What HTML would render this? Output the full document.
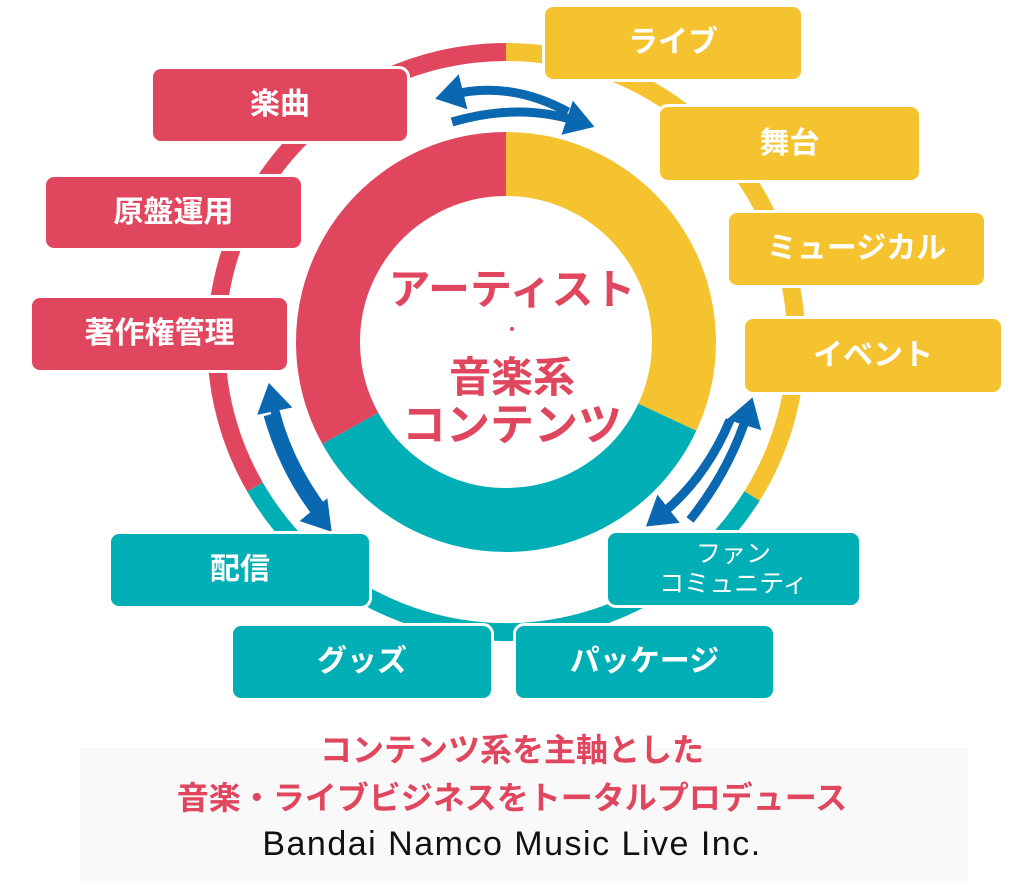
<!DOCTYPE html>
<html><head><meta charset="utf-8"><style>
body{margin:0;width:1024px;height:881px;background:#fff;overflow:hidden;font-family:"Liberation Sans","Noto Sans CJK JP",sans-serif}
.b{position:absolute;border:3px solid #fff;border-radius:11px;color:#fff;font-weight:bold;font-size:30px;display:flex;align-items:center;justify-content:center;box-sizing:border-box;text-align:center;line-height:1.2}
.r{background:#e0475f}.y{background:#f5c330}.t{background:#00aeb6}
.c{position:absolute;left:0;width:1024px;text-align:center;font-weight:bold}
</style></head><body>
<div style="position:absolute;left:80px;top:748px;width:888px;height:133px;background:#f9f9f9"></div>
<svg width="1024" height="881" style="position:absolute;left:0;top:0">
<defs><marker id="ah" markerWidth="4" markerHeight="4" refX="1.5" refY="2" orient="auto" markerUnits="strokeWidth"><path d="M0,0 L3.2,2 L0,4 Z" fill="#0a68b0"/></marker></defs>
<g fill="none" stroke-width="18">
<path d="M506,52 A290,290 0 0 1 752,496" stroke="#f5c330"/>
<path d="M752,496 A290,290 0 0 1 255,487" stroke="#00aeb6"/>
<path d="M255,487 A290,290 0 0 1 506,52" stroke="#e0475f"/>
</g>
<g fill="none" stroke-width="64">
<path d="M506,164 A178,178 0 0 1 667.3,417.2" stroke="#f5c330"/>
<path d="M667.3,417.2 A178,178 0 0 1 350.3,428.3" stroke="#00aeb6"/>
<path d="M350.3,428.3 A178,178 0 0 1 506,164" stroke="#e0475f"/>
</g>
<g fill="none" stroke="#0a68b0" stroke-width="9">
<path d="M568,112 Q510,80 450,95" marker-end="url(#ah)"/>
<path d="M452,122 Q520,102 580,122" marker-end="url(#ah)"/>
<path d="M325,512 Q285,460 272,398" marker-end="url(#ah)"/>
<path d="M268,415 Q285,475 322,520" marker-end="url(#ah)"/>
<path d="M690,520 Q730,470 748,412" marker-end="url(#ah)"/>
<path d="M730,420 Q705,480 658,517" marker-end="url(#ah)"/>
</g>
</svg>
<div class="c" style="top:266px;font-size:42px;color:#e0475f;line-height:48px">アーティスト</div>
<div class="c" style="top:316px;font-size:16px;color:#e0475f">・</div>
<div class="c" style="top:354px;font-size:42px;color:#e0475f;line-height:48px">音楽系</div>
<div class="c" style="top:402px;font-size:44px;color:#e0475f;line-height:48px">コンテンツ</div>

<div class="b y" style="left:542px;top:4px;width:262px;height:78px">ライブ</div>
<div class="b r" style="left:150px;top:66px;width:260px;height:78px">楽曲</div>
<div class="b y" style="left:657px;top:104px;width:265px;height:79px">舞台</div>
<div class="b r" style="left:43px;top:174px;width:261px;height:77px">原盤運用</div>
<div class="b y" style="left:726px;top:210px;width:261px;height:78px">ミュージカル</div>
<div class="b r" style="left:29px;top:295px;width:261px;height:78px">著作権管理</div>
<div class="b y" style="left:742px;top:316px;width:262px;height:79px">イベント</div>
<div class="b t" style="left:108px;top:531px;width:264px;height:78px">配信</div>
<div class="b t" style="left:605px;top:530px;width:257px;height:78px;font-size:25px;font-weight:normal">ファン<br>コミュニティ</div>
<div class="b t" style="left:230px;top:623px;width:264px;height:78px">グッズ</div>
<div class="b t" style="left:513px;top:623px;width:263px;height:78px">パッケージ</div>

<div class="c" style="top:725px;font-size:32px;color:#e0475f">コンテンツ系を主軸とした</div>
<div class="c" style="top:773px;font-size:32px;color:#e0475f">音楽・ライブビジネスをトータルプロデュース</div>
<div class="c" style="top:825px;font-size:34px;color:#111;font-weight:normal;letter-spacing:1.5px">Bandai Namco Music Live Inc.</div>
</body></html>
